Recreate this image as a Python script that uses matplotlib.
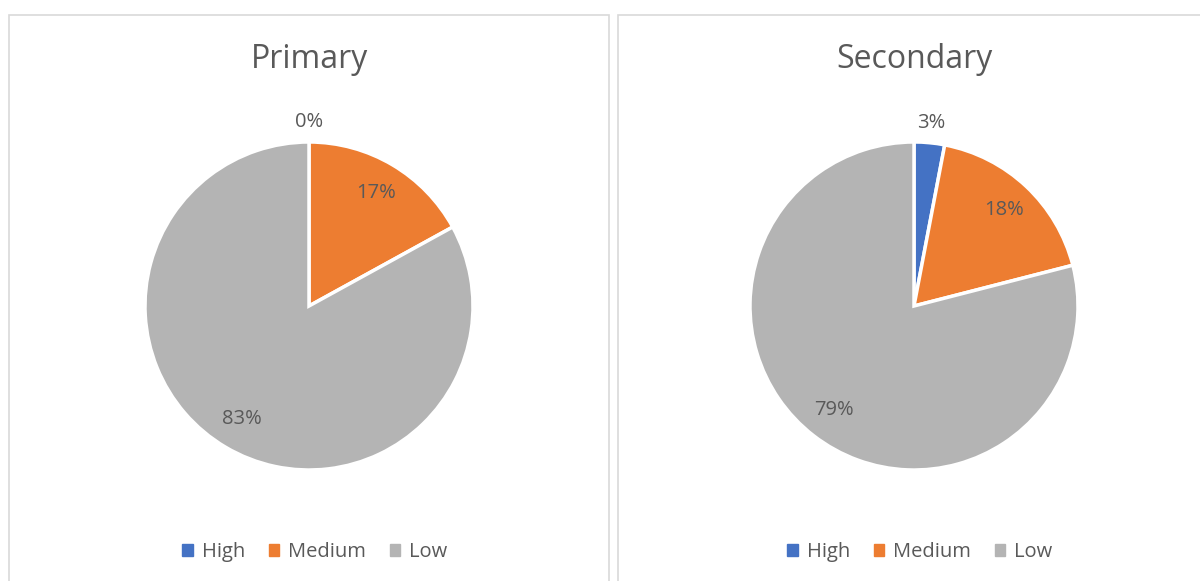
import matplotlib
matplotlib.use("Agg")
import matplotlib.pyplot as plt
import matplotlib.patches as mpatches
import numpy as np

plt.rcParams['font.family'] = ['Open Sans', 'DejaVu Sans']

# data
categories = ["High", "Medium", "Low"]
primary = [0, 17, 83]
secondary = [3, 18, 79]
titles = ["Primary", "Secondary"]
colors = ["#4472C4", "#ED7D31", "#B4B4B4"]
text_col = "#595959"

W, H = 1200, 581
fig = plt.figure(figsize=(W / 100, H / 100), dpi=100)

# chart frames (pixel coords)
frames = [(9, 15, 600), (618, 15, 600)]
for x0, y0, w in frames:
    fig.patches.append(mpatches.Rectangle((x0 / W, -0.05), w / W, (H - y0) / H + 0.05,
                                          transform=fig.transFigure, fill=False,
                                          edgecolor="#D9D9D9", linewidth=1.2))

R = 164  # pie radius px
half = 200
centers = [(309, 306), (914, 306)]

for (cx, cy), vals, title in zip(centers, [primary, secondary], titles):
    ax = fig.add_axes([(cx - half) / W, (H - cy - half) / H, 2 * half / W, 2 * half / H])
    wedges, _ = ax.pie(vals, colors=colors, startangle=90, counterclock=False,
                       radius=1, wedgeprops=dict(edgecolor="white", linewidth=2.5))
    lim = half / R
    ax.set_xlim(-lim, lim)
    ax.set_ylim(-lim, lim)
    ax.set_aspect("equal")
    ax.axis("off")

    total = sum(vals)
    for wdg, v in zip(wedges, vals):
        ang = np.radians((wdg.theta1 + wdg.theta2) / 2)
        d = 1.12 if v / total < 0.05 else 0.8
        ax.text(d * np.cos(ang), d * np.sin(ang), f"{round(100 * v / total)}%",
                ha="center", va="center", fontsize=14.5, color=text_col)

    fig.text(cx / W, 1 - 59 / H, title, ha="center", va="center",
             fontsize=23, color=text_col)

    handles = [mpatches.Patch(color=c, label=l) for c, l in zip(colors, categories)]
    fig.legend(handles=handles, loc="center", bbox_to_anchor=((cx + 6) / W, 1 - 552 / H),
               ncol=3, frameon=False, fontsize=14.5, handlelength=0.5, handleheight=0.5,
               handletextpad=0.45, columnspacing=1.2, labelcolor=text_col)

fig.savefig("out.png", dpi=100)
